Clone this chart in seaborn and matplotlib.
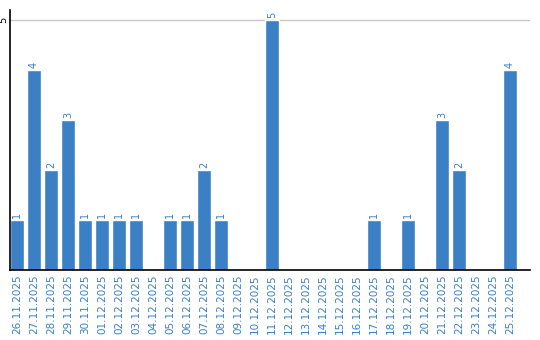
import matplotlib
matplotlib.use("Agg")
import matplotlib.pyplot as plt
import seaborn as sns
import pandas as pd

dates = ["26.11.2025", "27.11.2025", "28.11.2025", "29.11.2025", "30.11.2025",
         "01.12.2025", "02.12.2025", "03.12.2025", "04.12.2025", "05.12.2025",
         "06.12.2025", "07.12.2025", "08.12.2025", "09.12.2025", "10.12.2025",
         "11.12.2025", "12.12.2025", "13.12.2025", "14.12.2025", "15.12.2025",
         "16.12.2025", "17.12.2025", "18.12.2025", "19.12.2025", "20.12.2025",
         "21.12.2025", "22.12.2025", "23.12.2025", "24.12.2025", "25.12.2025"]
counts = [1, 4, 2, 3, 1, 1, 1, 1, 0, 1, 1, 2, 1, 0, 0, 5, 0, 0, 0, 0, 0, 1, 0, 1, 0, 3, 2, 0, 0, 4]
yticks = [5]

BLUE = "#3b7fc4"

sns.set_theme(style="white")
plt.rcParams["font.family"] = ["DejaVu Sans"]

df = pd.DataFrame({"date": dates, "count": counts})

fig = plt.figure(figsize=(5.4, 3.4), dpi=100)
ax = fig.add_axes([10 / 540, 70 / 340, 520 / 540, 260 / 340])
sns.barplot(data=df, x="date", y="count", color=BLUE, saturation=1, width=0.82, ax=ax)

ax.set_xlim(-0.41, len(dates) + 0.18)
ax.set_ylim(0, 5.2)
ax.set_yticks(yticks)
ax.set_yticklabels([str(v) for v in yticks], rotation=90, va="center", fontsize=7, color="#000000")
ax.yaxis.grid(True, color="#c8c8c8", linewidth=1)
ax.set_axisbelow(True)
ax.tick_params(axis="y", length=0, pad=1)
ax.tick_params(axis="x", length=0, pad=3)
ax.set_xticks(range(len(dates)))
ax.set_xticklabels(dates, rotation=90, fontsize=7.5, color=BLUE)
ax.set_xlabel("")
ax.set_ylabel("")

for s in ["top", "right"]:
    ax.spines[s].set_visible(False)
for s in ["left", "bottom"]:
    ax.spines[s].set_visible(True)
    ax.spines[s].set_color("#000000")
    ax.spines[s].set_linewidth(1.2)

for i, v in enumerate(counts):
    if v > 0:
        ax.text(i, v + 0.04, str(v), rotation=90, ha="center", va="bottom",
                fontsize=7, color=BLUE)

fig.savefig("out.png", dpi=100)
